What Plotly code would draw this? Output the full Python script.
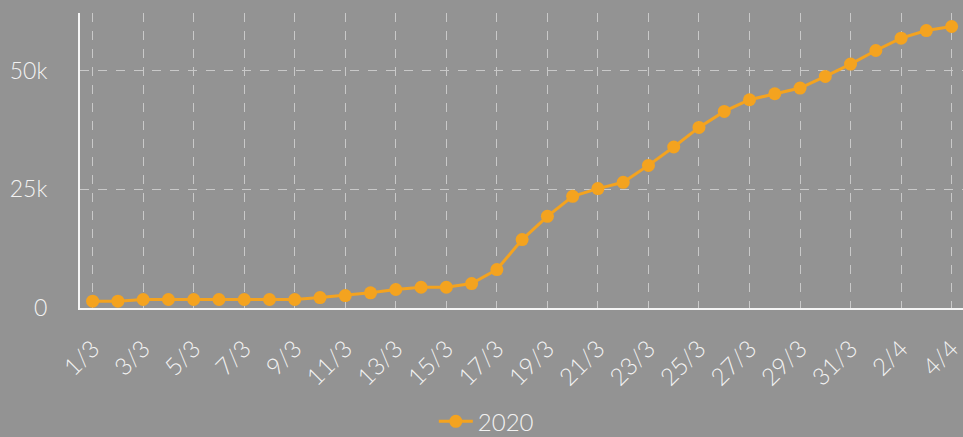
import plotly.graph_objects as go

dates = ["1/3", "2/3", "3/3", "4/3", "5/3", "6/3", "7/3", "8/3", "9/3", "10/3",
         "11/3", "12/3", "13/3", "14/3", "15/3", "16/3", "17/3", "18/3", "19/3", "20/3",
         "21/3", "22/3", "23/3", "24/3", "25/3", "26/3", "27/3", "28/3", "29/3", "30/3",
         "31/3", "1/4", "2/4", "3/4", "4/4"]
values_2020 = [1430, 1430, 1790, 1790, 1790, 1790, 1790, 1790, 1790, 2200,
               2630, 3200, 3900, 4380, 4380, 5160, 8110, 14430, 19330, 23550,
               25170, 26500, 30070, 33950, 38080, 41450, 43910, 45170, 46370, 48820,
               51430, 54290, 56900, 58500, 59350]
series_name = "2020"
y_ticks = [0, 25000, 50000]
y_ticktext = ["0", "25k", "50k"]

BG = "#939393"
ORANGE = "#f4a31f"
TXT = "#f2f2f2"
GRID = "#c9c9c9"

fig = go.Figure()
fig.add_trace(go.Scatter(
    x=list(range(len(dates))), y=values_2020, name=series_name,
    mode="lines+markers",
    line=dict(color=ORANGE, width=3),
    marker=dict(color=ORANGE, size=13),
))

fig.update_layout(
    width=963, height=437,
    paper_bgcolor=BG, plot_bgcolor=BG,
    margin=dict(l=80, r=0, t=13, b=129),
    font=dict(family="Lato, Open Sans, sans-serif", size=22, color=TXT, weight=300),
    showlegend=True,
    legend=dict(orientation="h", x=0.505, xanchor="center", xref="container",
                y=0.035, yanchor="middle", yref="container",
                font=dict(size=24, color=TXT, weight=300), bgcolor="rgba(0,0,0,0)",
                itemwidth=34),
    xaxis=dict(
        range=[-0.5, 34.45],
        tickmode="array",
        tickvals=list(range(0, len(dates), 2)),
        ticktext=dates[::2],
        tickangle=-45,
        showgrid=True, gridcolor=GRID, griddash="dash", gridwidth=1,
        showline=True, linecolor="#f5f5f5", linewidth=2,
        ticks="", zeroline=False, automargin=False,
        ticklabeloverflow="allow", ticklabelstandoff=15,
        tickfont=dict(size=24, color=TXT, weight=300),
    ),
    yaxis=dict(
        range=[0, 62200],
        tickmode="array", tickvals=y_ticks, ticktext=y_ticktext,
        showgrid=True, gridcolor=GRID, griddash="dash", gridwidth=1,
        showline=True, linecolor="#f5f5f5", linewidth=2,
        zeroline=False, ticks="", ticklabelstandoff=26, automargin=False,
        tickfont=dict(size=23, color=TXT, weight=300),
    ),
)

fig.write_html("out.html", config={"displayModeBar": False},
               post_script="document.body.style.margin='0';")
